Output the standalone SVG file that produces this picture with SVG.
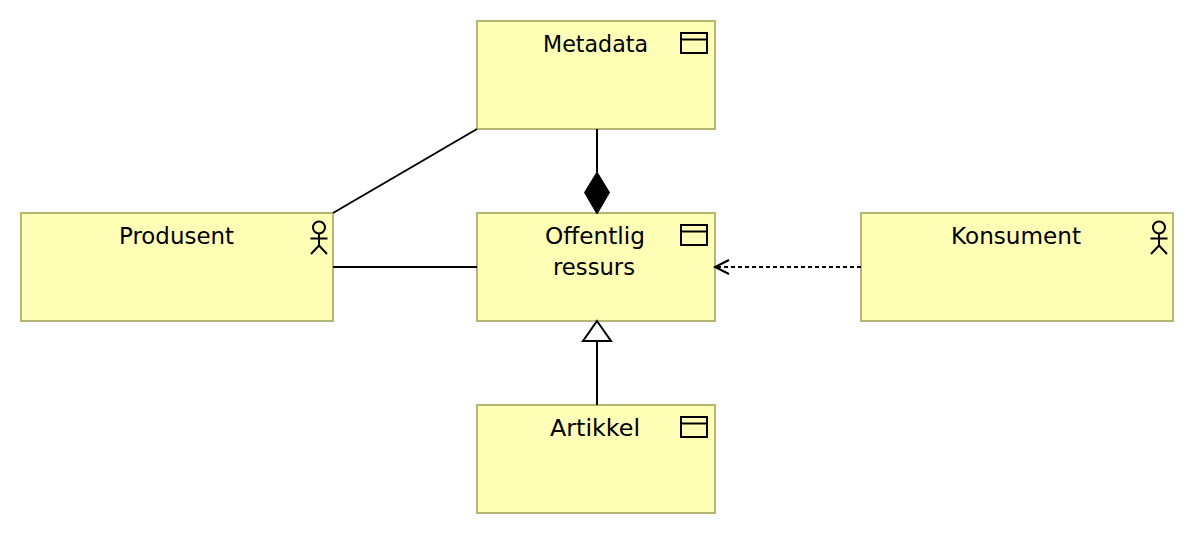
<svg xmlns="http://www.w3.org/2000/svg" width="1194" height="534" viewBox="0 0 1194 534">
<defs>
<style>
.box{fill:#ffffb5;stroke:#b5b574;stroke-width:2}
.t{font-family:"DejaVu Sans","Liberation Sans",sans-serif;font-size:23.500px;fill:#000;text-anchor:middle}
.ico{fill:none;stroke:#000;stroke-width:2}
.c{fill:none;stroke:#000;stroke-width:2}
</style>
<g id="win"><rect x="0" y="0" width="26" height="20" class="ico"/><path d="M0 6.500H26" class="ico"/></g>
<g id="actor"><circle cx="0" cy="6.500" r="6" class="ico"/><path d="M0 12.500V25M-8.500 17.500H8.500M-8 33L0 24.500L8 33" class="ico"/></g>
</defs>
<rect width="1194" height="534" fill="#fff"/>
<g id="metadata"><rect x="477" y="21" width="238" height="108" class="box"/><text class="t" x="595.500" y="52" textLength="105" lengthAdjust="spacingAndGlyphs">Metadata</text><use href="#win" x="681" y="33"/></g>
<g id="produsent"><rect x="21" y="213" width="312" height="108" class="box"/><text class="t" x="176.500" y="244" textLength="115" lengthAdjust="spacingAndGlyphs">Produsent</text><use href="#actor" x="319" y="221"/></g>
<g id="offentlig"><rect x="477" y="213" width="238" height="108" class="box"/><text class="t" x="595" y="244" textLength="100" lengthAdjust="spacingAndGlyphs">Offentlig</text><text class="t" x="594" y="275" textLength="82" lengthAdjust="spacingAndGlyphs">ressurs</text><use href="#win" x="681" y="225"/></g>
<g id="konsument"><rect x="861" y="213" width="312" height="108" class="box"/><text class="t" x="1016" y="244" textLength="130" lengthAdjust="spacingAndGlyphs">Konsument</text><use href="#actor" x="1159" y="221"/></g>
<g id="artikkel"><rect x="477" y="405" width="238" height="108" class="box"/><text class="t" x="595" y="436" textLength="90" lengthAdjust="spacingAndGlyphs">Artikkel</text><use href="#win" x="681" y="417"/></g>
<g id="connectors">
<path class="c" d="M333 213L477 129"/>
<path class="c" d="M333 267H477"/>
<path class="c" d="M597 129V172"/>
<path d="M597 172L609.500 192.500L597 214L584.500 192.500Z" fill="#000" stroke="#000" stroke-width="1"/>
<path class="c" d="M597 405V341"/>
<path d="M597 321L611 341H583Z" fill="#fff" stroke="#000" stroke-width="2"/>
<path class="c" d="M861 267H716" stroke-dasharray="4 3"/>
<path class="c" d="M729 260L715 267L729 274"/>
</g>
</svg>
